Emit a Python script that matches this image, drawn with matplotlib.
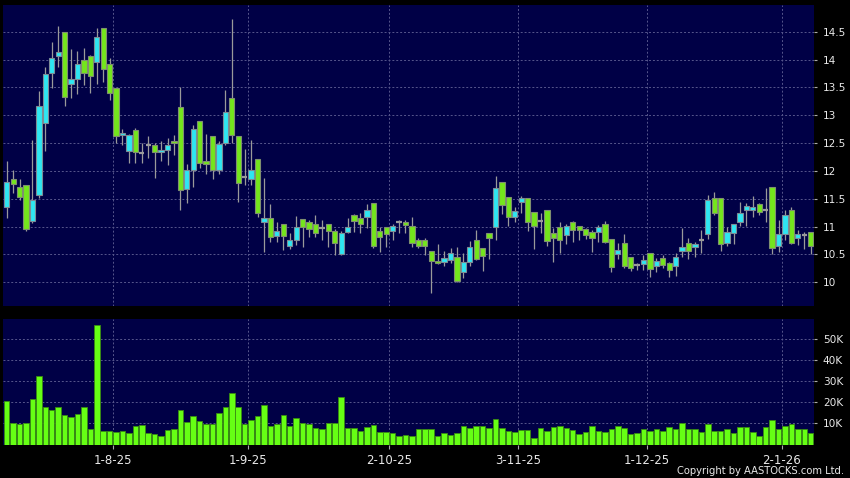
import matplotlib
matplotlib.use("Agg")
import matplotlib.pyplot as plt
from matplotlib.ticker import FuncFormatter
import numpy as np

# daily OHLC (one entry per trading day)
opens = [11.35, 11.85, 11.72, 11.74, 11.11, 11.57, 12.86, 13.75, 14.07, 14.49,
         13.56, 13.66, 13.99, 14.07, 13.96, 14.56, 13.92, 13.49, 12.64, 12.35,
         12.74, 12.33, 12.47, 12.46, 12.34, 12.37, 12.54, 13.14, 11.67, 12.02,
         12.89, 12.17, 12.62, 12.02, 12.50, 13.31, 12.63, 11.89, 11.85, 12.21,
         11.08, 11.16, 10.83, 11.04, 10.66, 10.76, 11.13, 11.09, 11.04, 10.98,
         11.04, 10.92, 10.51, 10.91, 11.20, 11.15, 11.18, 11.42, 10.93, 11.00,
         10.93, 11.09, 11.08, 11.02, 10.76, 10.76, 10.56, 10.39, 10.36, 10.40,
         10.46, 10.19, 10.36, 10.76, 10.61, 10.88, 11.00, 11.80, 11.53, 11.18,
         11.45, 11.51, 11.27, 11.10, 11.29, 10.88, 10.99, 10.85, 11.09, 11.01,
         10.96, 10.90, 10.90, 11.04, 10.77, 10.51, 10.70, 10.45, 10.31, 10.32,
         10.52, 10.30, 10.43, 10.34, 10.30, 10.56, 10.70, 10.64, 10.76, 10.86,
         11.52, 11.51, 10.70, 10.88, 11.09, 11.29, 11.29, 11.40, 11.30, 11.71,
         10.66, 10.86, 11.29, 10.79, 10.85, 10.90]
highs = [12.17, 12.02, 11.85, 11.74, 12.56, 13.43, 13.87, 14.31, 14.60, 14.49,
         14.19, 14.16, 14.20, 14.08, 14.56, 14.56, 14.02, 13.49, 12.75, 12.67,
         12.78, 12.51, 12.62, 12.50, 12.53, 12.59, 12.65, 13.51, 12.13, 12.83,
         12.89, 12.66, 12.62, 12.54, 13.46, 14.72, 12.63, 12.39, 12.56, 12.21,
         11.87, 11.41, 11.09, 11.04, 10.88, 11.19, 11.13, 11.12, 11.21, 11.12,
         11.04, 10.95, 10.93, 11.15, 11.23, 11.24, 11.41, 11.42, 11.00, 11.00,
         11.05, 11.12, 11.12, 11.18, 10.79, 10.79, 10.56, 10.69, 10.56, 10.61,
         10.64, 10.52, 10.74, 10.94, 10.61, 10.88, 11.91, 11.81, 11.53, 11.36,
         11.55, 11.51, 11.27, 11.24, 11.29, 10.97, 11.09, 11.05, 11.10, 11.01,
         10.97, 10.94, 11.03, 11.10, 10.77, 10.71, 10.87, 10.45, 10.35, 10.49,
         10.52, 10.43, 10.49, 10.37, 10.52, 10.97, 10.79, 10.73, 10.94, 11.57,
         11.63, 11.51, 11.00, 11.04, 11.44, 11.42, 11.55, 11.42, 11.69, 11.71,
         11.12, 11.29, 11.35, 10.94, 10.91, 10.90]
lows = [11.15, 11.60, 11.48, 10.93, 11.06, 11.51, 12.35, 13.49, 13.87, 13.16,
        13.31, 13.38, 13.54, 13.40, 13.56, 13.60, 13.28, 12.50, 12.47, 12.15,
        12.15, 12.14, 12.23, 11.87, 12.17, 12.11, 12.29, 11.30, 11.42, 11.72,
        12.05, 11.95, 11.85, 11.95, 12.47, 12.50, 11.45, 11.75, 11.75, 11.17,
        10.55, 10.73, 10.73, 10.58, 10.60, 10.67, 10.64, 10.82, 10.82, 10.76,
        10.64, 10.49, 10.49, 10.88, 10.91, 10.89, 10.97, 10.61, 10.55, 10.64,
        10.76, 10.88, 10.88, 10.64, 10.61, 10.49, 9.81, 10.33, 10.29, 10.34,
        10.00, 10.07, 10.29, 10.40, 10.21, 10.42, 10.76, 11.23, 11.01, 11.09,
        11.24, 10.93, 10.59, 10.88, 10.65, 10.37, 10.52, 10.69, 10.73, 10.76,
        10.77, 10.55, 10.73, 10.70, 10.18, 10.41, 10.25, 10.21, 10.22, 10.22,
        10.10, 10.19, 10.25, 10.09, 10.11, 10.45, 10.41, 10.46, 10.53, 10.77,
        11.21, 10.57, 10.65, 10.69, 11.01, 11.01, 11.18, 11.21, 11.08, 10.50,
        10.55, 10.76, 10.69, 10.67, 10.60, 10.51]
closes = [11.81, 11.77, 11.53, 10.95, 11.47, 13.16, 13.74, 14.02, 14.14, 13.32,
          13.66, 13.92, 13.75, 13.71, 14.40, 13.83, 13.40, 12.63, 12.68, 12.65,
          12.34, 12.33, 12.47, 12.34, 12.37, 12.46, 12.51, 11.65, 12.01, 12.75,
          12.14, 12.13, 12.02, 12.49, 13.05, 12.65, 11.79, 11.89, 12.01, 11.24,
          11.16, 10.82, 10.92, 10.84, 10.76, 11.00, 11.00, 10.95, 10.88, 10.98,
          10.92, 10.70, 10.89, 10.99, 11.11, 11.05, 11.29, 10.66, 10.81, 10.87,
          11.02, 11.09, 11.03, 10.70, 10.66, 10.66, 10.39, 10.34, 10.43, 10.52,
          10.03, 10.36, 10.64, 10.42, 10.48, 10.80, 11.69, 11.38, 11.18, 11.28,
          11.51, 11.09, 11.01, 11.10, 10.74, 10.79, 10.76, 11.02, 10.94, 10.94,
          10.85, 10.79, 10.99, 10.72, 10.27, 10.58, 10.30, 10.25, 10.31, 10.40,
          10.24, 10.38, 10.31, 10.23, 10.45, 10.64, 10.56, 10.68, 10.76, 11.48,
          11.24, 10.68, 10.90, 11.04, 11.24, 11.37, 11.35, 11.27, 11.30, 10.61,
          10.86, 11.20, 10.71, 10.86, 10.85, 10.66]
volumes = [20500, 10000, 9700, 10000, 21300, 32300, 17600, 16300, 17600, 14000,
           13200, 14400, 17600, 7400, 56300, 6600, 6600, 6100, 6400, 5600,
           8500, 9300, 5300, 4900, 4100, 6900, 7200, 16300, 10500, 13600,
           11100, 9600, 9900, 14700, 17600, 24500, 17600, 9900, 11600, 13500,
           18700, 8900, 9700, 14000, 8800, 12700, 10000, 9700, 8000, 7200,
           10000, 10000, 22300, 7700, 8000, 6400, 8200, 9300, 5800, 5800,
           5300, 3800, 4500, 3800, 7200, 7200, 7200, 4100, 5300, 4500,
           5300, 8800, 7700, 8800, 8800, 8000, 12100, 7700, 6400, 5800,
           6900, 6900, 3300, 7700, 6600, 8200, 8500, 7700, 6900, 5000,
           5800, 8500, 6400, 5800, 7400, 8500, 7700, 4900, 5600, 7400,
           6400, 7400, 6600, 8200, 7400, 10000, 7200, 7200, 5800, 9600,
           6600, 6600, 7200, 5600, 8200, 8200, 5800, 4200, 8200, 11600,
           7200, 8800, 9600, 7200, 7200, 5300]

date_labels = ["1-8-25", "1-9-25", "2-10-25", "3-11-25", "1-12-25", "2-1-26"]
date_idx = [17, 38, 60, 80, 100, 121]
price_ticks = [10, 10.5, 11, 11.5, 12, 12.5, 13, 13.5, 14, 14.5]
vol_ticks = [10000, 20000, 30000, 40000, 50000]

BG = "#000046"
GRID = "#56568c"
UP = "#2ee6f2"
DOWN = "#74e61c"
FLAT = "#9a9a9a"
WICK = "#9a9a9a"
TXT = "#e8e8e8"

n = len(opens)
x = np.arange(n)
xlim = (-0.53, n - 0.44)
grid_x = np.array(date_idx) - 0.5

W, H = 850, 478
fig = plt.figure(figsize=(W / 100, H / 100), dpi=100, facecolor="black")
ax = fig.add_axes([3.3 / W, 1 - 305.7 / H, 811 / W, 300.7 / H])
axv = fig.add_axes([3.3 / W, 1 - 444.5 / H, 811 / W, 125.5 / H])

for a in (ax, axv):
    a.set_facecolor(BG)
    for s in a.spines.values():
        s.set_visible(False)
    a.set_xlim(*xlim)
    a.set_xticks(grid_x)
    a.yaxis.tick_right()
    a.tick_params(axis="y", colors=TXT, labelsize=7.6, length=2.2,
                  width=0.8, pad=4, direction="out")
    a.tick_params(axis="y", color="#aaaaaa")
    a.grid(True, color=GRID, lw=0.7, ls=(0, (2, 2)))
    a.set_axisbelow(True)

# price candles
ax.set_ylim(9.58, 14.98)
ax.set_yticks(price_ticks)
ax.yaxis.set_major_formatter(FuncFormatter(lambda v, p: f"{v:g}"))
ax.tick_params(axis="x", length=0, labelbottom=False)

o = np.array(opens)
c = np.array(closes)
ax.vlines(x, lows, highs, color=WICK, lw=0.9, zorder=2)
up = c > o
dn = c < o
flat = c == o
ax.bar(x[up], (c - o)[up], bottom=o[up], width=0.82, color=UP,
       edgecolor="#7c8c96", lw=0.8, zorder=3)
ax.bar(x[dn], (o - c)[dn], bottom=c[dn], width=0.82, color=DOWN,
       edgecolor="#7f8f70", lw=0.8, zorder=3)
ax.hlines(c[flat], x[flat] - 0.42, x[flat] + 0.42, color=FLAT, lw=1.6, zorder=3)

# volume
axv.set_ylim(0, 59200)
axv.set_yticks(vol_ticks)
axv.yaxis.set_major_formatter(FuncFormatter(lambda v, p: f"{v / 1000:g}K"))
axv.bar(x, volumes, width=0.86, color="#66ff14", edgecolor="#3a8c12",
        lw=0.6, zorder=3)
axv.set_xticklabels(date_labels)
axv.tick_params(axis="x", colors=TXT, labelsize=8.5, length=3, width=0.8,
                pad=4, color="#aaaaaa")

fig.text(844 / W, 1 - 471.5 / H, "Copyright by AASTOCKS.com Ltd.",
         color=TXT, fontsize=7.2, ha="right", va="center")

fig.savefig("out.png", dpi=100, facecolor="black")
